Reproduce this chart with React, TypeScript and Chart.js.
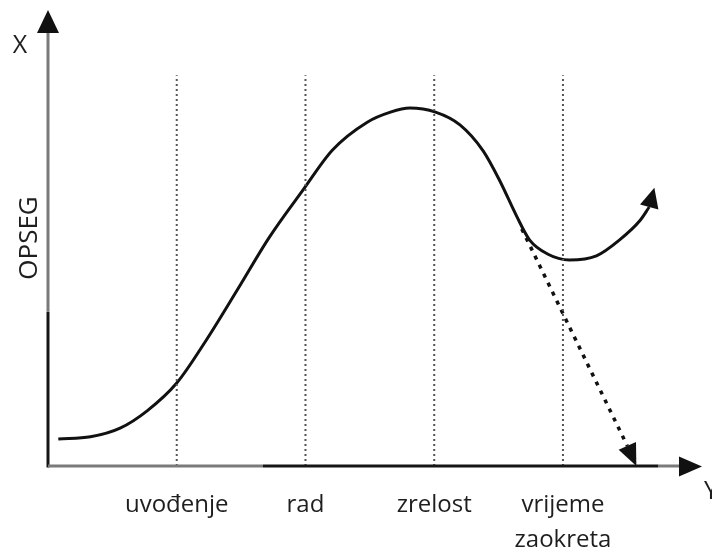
import React, { useEffect, useRef } from "react";
import { Chart, registerables } from "chart.js";

Chart.register(...registerables);

// Stage boundaries on the time axis and their labels
const stageBoundaries = [1, 2, 3, 4];
const stageLabels: string[][] = [["uvođenje"], ["rad"], ["zrelost"], ["vrijeme", "zaokreta"]];
const axisYLabel = "OPSEG";
const axisXName = "Y";
const axisYName = "X";

// Main life-cycle curve (time, volume)
const curveX = [0.08, 0.33, 0.56, 0.77, 1.0, 1.22, 1.47, 1.72, 1.98, 2.21, 2.48, 2.66, 2.81, 3.01, 3.2, 3.38, 3.51, 3.64, 3.74, 3.88, 4.05, 4.26, 4.44, 4.6, 4.67];
const curveY = [5.9, 6.4, 8.3, 12.1, 18.2, 27.2, 38.6, 50.2, 60.5, 69.3, 75.4, 77.6, 78.5, 77.6, 74.8, 69.1, 62.5, 54.8, 49.6, 46.5, 45.2, 46.1, 49.6, 53.9, 56.8];
const curveTip = [4.71, 61.0];

// Declining (dashed) branch
const declineX = [3.68, 4.5];
const declineY = [52.0, 4.4];
const declineTip = [4.57, 0];

// Dotted stage lines run from 0 up to this level
const stageLineTop = 85.7;

const X_MAX = 5.08;
const Y_MAX = 100;

function drawArrow(ctx: CanvasRenderingContext2D, bx: number, by: number, tx: number, ty: number, half: number, color: string) {
  const dx = tx - bx;
  const dy = ty - by;
  const len = Math.hypot(dx, dy) || 1;
  const nx = -dy / len;
  const ny = dx / len;
  ctx.beginPath();
  ctx.moveTo(tx, ty);
  ctx.lineTo(bx + nx * half, by + ny * half);
  ctx.lineTo(bx - nx * half, by - ny * half);
  ctx.closePath();
  ctx.fillStyle = color;
  ctx.fill();
}

const overlay = {
  id: "overlay",
  afterDatasetsDraw(chart: any) {
    const { ctx, chartArea, scales } = chart;
    const { top, right } = chartArea;
    const xs = scales.x;
    const ys = scales.y;
    const x0 = xs.getPixelForValue(0);
    const y0 = ys.getPixelForValue(0);
    ctx.save();

    // y axis (light upper part, dark lower part)
    const yDark = ys.getPixelForValue(33.8);
    ctx.lineWidth = 3;
    ctx.lineCap = "butt";
    ctx.strokeStyle = "#7a7a7a";
    ctx.beginPath();
    ctx.moveTo(x0, yDark);
    ctx.lineTo(x0, top + 20);
    ctx.stroke();
    ctx.strokeStyle = "#151515";
    ctx.beginPath();
    ctx.moveTo(x0, y0 + 1.5);
    ctx.lineTo(x0, yDark);
    ctx.stroke();
    drawArrow(ctx, x0, top + 23, x0, top, 11, "#111");

    // x axis
    const xDarkA = xs.getPixelForValue(1.67);
    const xDarkB = xs.getPixelForValue(4.74);
    ctx.strokeStyle = "#7a7a7a";
    ctx.beginPath();
    ctx.moveTo(x0, y0);
    ctx.lineTo(xDarkA, y0);
    ctx.moveTo(xDarkB, y0);
    ctx.lineTo(right - 18, y0);
    ctx.stroke();
    ctx.strokeStyle = "#151515";
    ctx.beginPath();
    ctx.moveTo(xDarkA, y0);
    ctx.lineTo(xDarkB, y0);
    ctx.stroke();
    drawArrow(ctx, right - 23, y0 + 0.5, right, y0 + 0.5, 10, "#111");

    // arrowheads on curves
    const n = curveX.length - 1;
    drawArrow(
      ctx,
      xs.getPixelForValue(curveX[n]),
      ys.getPixelForValue(curveY[n]),
      xs.getPixelForValue(curveTip[0]),
      ys.getPixelForValue(curveTip[1]),
      9.5,
      "#111"
    );
    const m = declineX.length - 1;
    drawArrow(
      ctx,
      xs.getPixelForValue(declineX[m]),
      ys.getPixelForValue(declineY[m]),
      xs.getPixelForValue(declineTip[0]),
      ys.getPixelForValue(declineTip[1]),
      9.5,
      "#111"
    );

    // stage labels
    ctx.fillStyle = "#1e1e1e";
    ctx.font = '24px "Open Sans"';
    ctx.textAlign = "center";
    ctx.textBaseline = "alphabetic";
    stageLabels.forEach((lines, i) => {
      const px = xs.getPixelForValue(stageBoundaries[i]);
      lines.forEach((t, j) => ctx.fillText(t, px, y0 + 46 + j * 35));
    });

    // axis names
    ctx.font = '25px "Open Sans"';
    ctx.fillText(axisYName, x0 - 28, top + 43);
    ctx.textAlign = "left";
    ctx.fillText(axisXName, right + 2, y0 + 33);

    // vertical title
    ctx.save();
    ctx.translate(x0 - 11, ys.getPixelForValue(50));
    ctx.rotate(-Math.PI / 2);
    ctx.textAlign = "center";
    ctx.font = '26px "Open Sans"';
    ctx.fillText(axisYLabel, 0, 0);
    ctx.restore();

    ctx.restore();
  },
};

export default function App() {
  const canvasRef = useRef<HTMLCanvasElement>(null);

  useEffect(() => {
    if (!canvasRef.current) return;
    const stageSets = stageBoundaries.map((b) => ({
      data: [
        { x: b, y: 0 },
        { x: b, y: stageLineTop },
      ],
      showLine: true,
      borderColor: "#555",
      borderWidth: 2,
      borderDash: [2, 3],
      pointRadius: 0,
    }));
    const chart = new Chart(canvasRef.current, {
      type: "scatter",
      data: {
        datasets: [
          ...stageSets,
          {
            data: curveX.map((x, i) => ({ x, y: curveY[i] })),
            showLine: true,
            borderColor: "#111",
            borderWidth: 3,
            cubicInterpolationMode: "monotone",
            pointRadius: 0,
          },
          {
            data: declineX.map((x, i) => ({ x, y: declineY[i] })),
            showLine: true,
            borderColor: "#111",
            borderWidth: 3.5,
            borderDash: [4, 6],
            pointRadius: 0,
          },
        ] as any,
      },
      options: {
        animation: false,
        responsive: true,
        maintainAspectRatio: false,
        layout: { padding: { left: 48, right: 10, top: 10, bottom: 86 } },
        plugins: { legend: { display: false }, tooltip: { enabled: false } },
        scales: {
          x: { type: "linear", min: 0, max: X_MAX, display: false },
          y: { type: "linear", min: 0, max: Y_MAX, display: false },
        },
      },
      plugins: [overlay],
    });
    return () => chart.destroy();
  }, []);

  return (
    <div style={{ position: "absolute", left: 0, top: 0, width: 712, height: 552, background: "#fff" }}>
      <canvas ref={canvasRef} />
    </div>
  );
}
